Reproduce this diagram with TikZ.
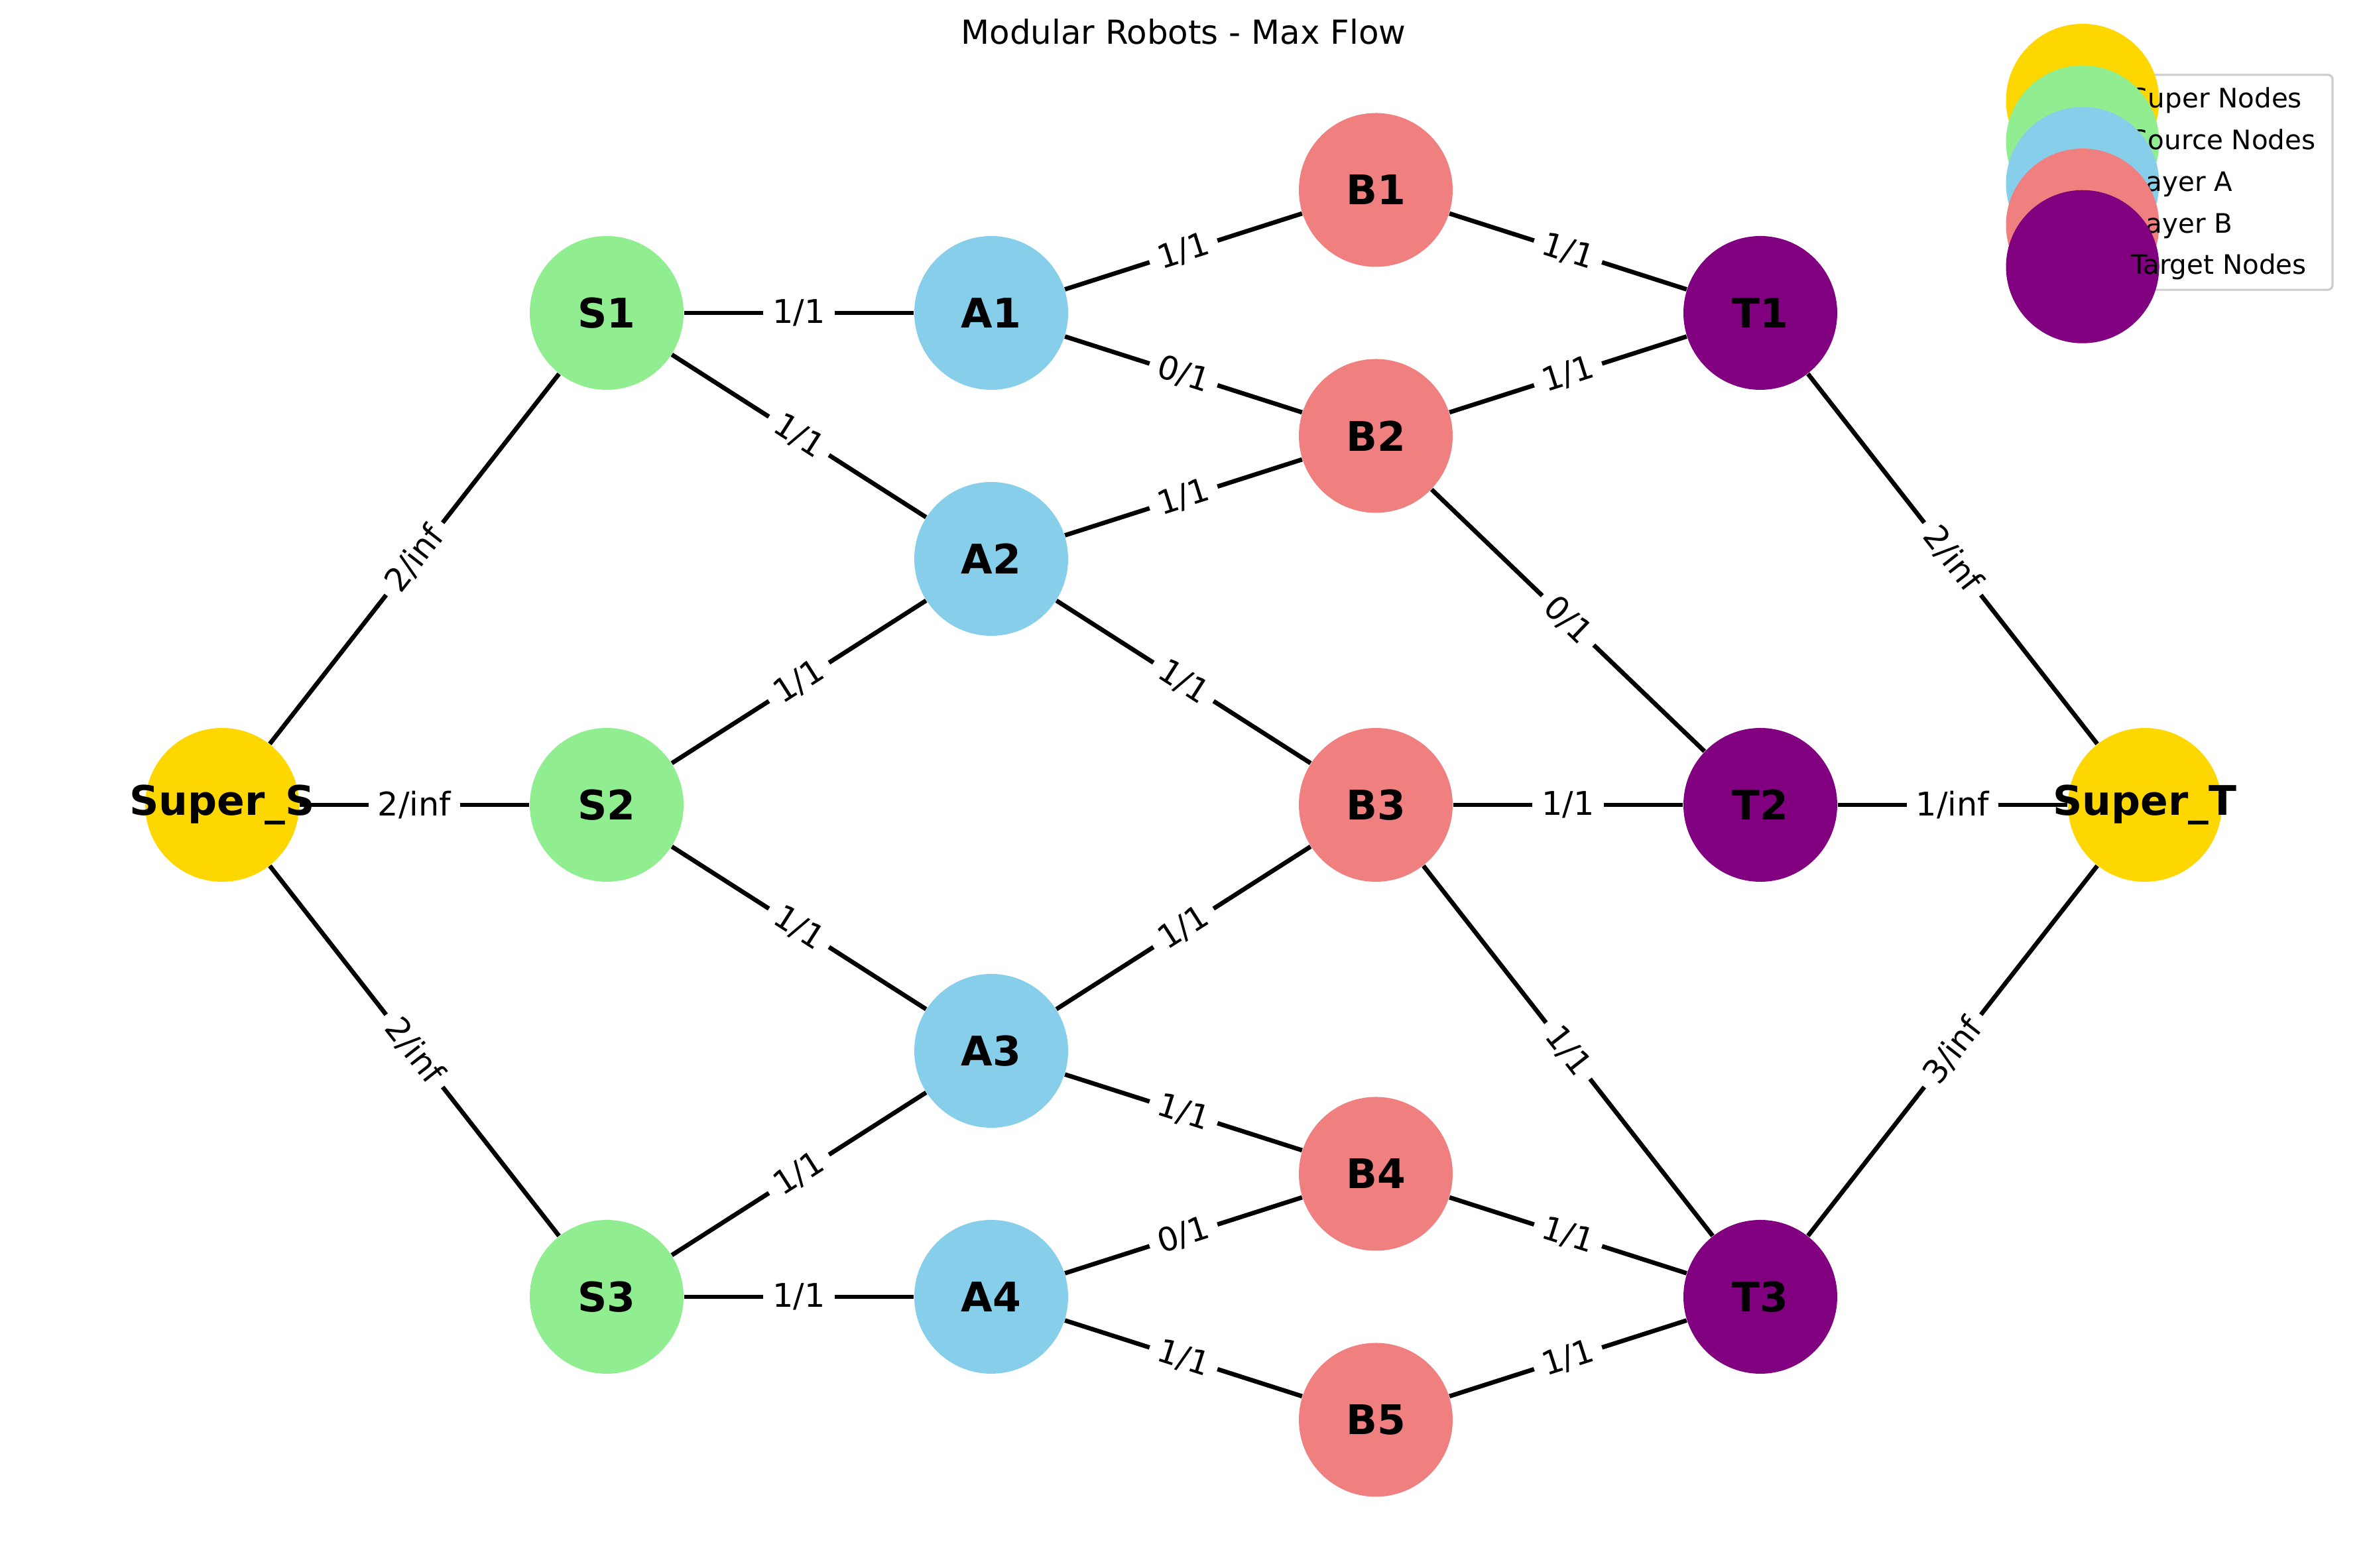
\documentclass[tikz,border=0pt]{standalone}
\usepackage{fontspec}
\setmainfont{DejaVu Sans}
\usetikzlibrary{backgrounds}
\definecolor{supercol}{HTML}{FFD700}
\definecolor{sourcecol}{HTML}{90EE90}
\definecolor{layeracol}{HTML}{87CEEB}
\definecolor{layerbcol}{HTML}{F08080}
\definecolor{targetcol}{HTML}{800080}
\definecolor{framecol}{HTML}{CCCCCC}
\begin{document}
\begin{tikzpicture}[x=5.8cm,y=3.71cm,
        vertex/.style={circle,fill=#1,minimum size=2.32cm,inner sep=0pt,
            font=\fontsize{17.5}{21}\selectfont\bfseries},
        flow/.style={line width=1.9pt},
        flowlabel/.style={midway,sloped,fill=white,inner xsep=4pt,inner ysep=2pt,
            font=\fontsize{14}{16}\selectfont}]
                \useasboundingbox (-0.5776,-3.1024) rectangle (5.5776,3.2722);
                \node[font=\fontsize{14.2}{17}\selectfont,anchor=base] (title) at (2.5,3.094) {Modular Robots - Max Flow};
                \node[vertex=supercol] (SuperS) at (0,0) {\makebox[0pt]{Super\_S}};
                \node[vertex=sourcecol] (S1) at (1,2) {S1};
                \node[vertex=sourcecol] (S2) at (1,0) {S2};
                \node[vertex=sourcecol] (S3) at (1,-2) {S3};
                \node[vertex=layeracol] (A1) at (2,2) {A1};
                \node[vertex=layeracol] (A2) at (2,1) {A2};
                \node[vertex=layeracol] (A3) at (2,-1) {A3};
                \node[vertex=layeracol] (A4) at (2,-2) {A4};
                \node[vertex=layerbcol] (B1) at (3,2.5) {B1};
                \node[vertex=layerbcol] (B2) at (3,1.5) {B2};
                \node[vertex=layerbcol] (B3) at (3,0) {B3};
                \node[vertex=layerbcol] (B4) at (3,-1.5) {B4};
                \node[vertex=layerbcol] (B5) at (3,-2.5) {B5};
                \node[vertex=targetcol] (T1) at (4,2) {T1};
                \node[vertex=targetcol] (T2) at (4,0) {T2};
                \node[vertex=targetcol] (T3) at (4,-2) {T3};
                \node[vertex=supercol] (SuperT) at (5,0) {\makebox[0pt]{Super\_T}};
                \begin{scope}[on background layer]
                    \foreach \a/\b/\f/\c in {SuperS/S1/2/inf,SuperS/S2/2/inf,SuperS/S3/2/inf,
                        S1/A1/1/1,S1/A2/1/1,S2/A2/1/1,S2/A3/1/1,S3/A3/1/1,S3/A4/1/1,
                        A1/B1/1/1,A1/B2/0/1,A2/B2/1/1,A2/B3/1/1,A3/B3/1/1,A3/B4/1/1,A4/B4/0/1,A4/B5/1/1,
                        B1/T1/1/1,B2/T1/1/1,B2/T2/0/1,B3/T2/1/1,B3/T3/1/1,B4/T3/1/1,B5/T3/1/1,
                        T1/SuperT/2/inf,T2/SuperT/1/inf,T3/SuperT/3/inf}
                    {
                        \draw[flow] (\a) -- (\b) node[flowlabel] {\f/\c};
                    }
                \end{scope}
                \draw[framecol,line width=0.9pt,fill=white,fill opacity=0.8,rounded corners=2pt] (4.655,2.094) rectangle (5.488,2.968);
                \foreach \col/\name [count=\i] in {supercol/Super Nodes,sourcecol/Source Nodes,layeracol/Layer A,layerbcol/Layer B,targetcol/Target Nodes}
                {
                    \fill[\col] (4.838,{2.864-0.169*(\i-1)}) circle (1.155cm);
                    \node[anchor=base west,inner sep=0pt,font=\fontsize{11.5}{13}\selectfont] (key\i) at (4.963,{2.833-0.169*(\i-1)}) {\name};
                }
\end{tikzpicture}
\end{document}
